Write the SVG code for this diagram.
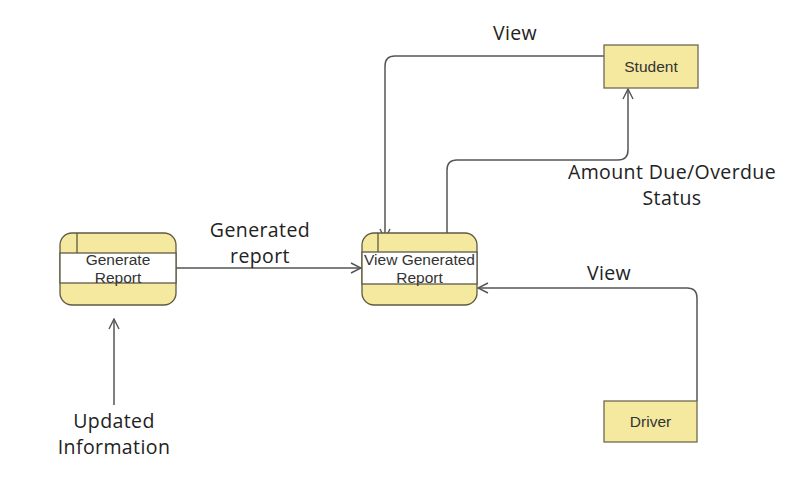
<svg xmlns="http://www.w3.org/2000/svg" width="792" height="501" viewBox="0 0 792 501">
<style>
.proc{fill:#f5e89f;stroke:#5e5a44;stroke-width:1.3}
.band{fill:#ffffff;stroke:#5e5a44;stroke-width:1.3}
.ent{fill:#f5e89f;stroke:#6e6a50;stroke-width:1.3}
.nt{font-family:"Liberation Sans",Arial,sans-serif;font-size:15.5px;fill:#333;text-anchor:middle}
.lbl{font-family:"Open Sans","Noto Sans",sans-serif;font-size:19.5px;letter-spacing:0.4px;fill:#222;text-anchor:middle}
.con{fill:none;stroke:#555;stroke-width:1.5}
</style>
<defs>
<marker id="arr" viewBox="0 0 12 12" refX="11" refY="6" markerWidth="12" markerHeight="12" markerUnits="userSpaceOnUse" orient="auto">
<path d="M1,1 L11,6 L1,11" fill="none" stroke="#555" stroke-width="1.4"/>
</marker>
</defs>
<rect width="792" height="501" fill="#ffffff"/>
<g id="connectors">
<path class="con" d="M604,56 H395 Q385,56 385,66 V239" marker-end="url(#arr)"/>
<path class="con" d="M447,233 V170 Q447,160 457,160 H618 Q628,160 628,150 V89" marker-end="url(#arr)"/>
<path class="con" d="M176,268 H361" marker-end="url(#arr)"/>
<path class="con" d="M697,401 V298 Q697,288 687,288 H478" marker-end="url(#arr)"/>
<path class="con" d="M114,405 V319" marker-end="url(#arr)"/>
</g>
<g id="generate-report">
<rect class="proc" x="60" y="233" width="116" height="72" rx="12"/>
<rect class="band" x="60" y="253" width="116" height="30"/>
<line x1="77" y1="233" x2="77" y2="253" stroke="#5e5a44" stroke-width="1.3"/>
<text class="nt" x="118" y="265">Generate</text>
<text class="nt" x="118" y="283">Report</text>
</g>
<g id="view-generated-report">
<rect class="proc" x="362" y="233" width="115" height="72" rx="12"/>
<rect class="band" x="362" y="252" width="115" height="32"/>
<line x1="378" y1="233" x2="378" y2="252" stroke="#5e5a44" stroke-width="1.3"/>
<text class="nt" x="419.5" y="265">View Generated</text>
<text class="nt" x="419.5" y="283">Report</text>
</g>
<g id="student">
<rect class="ent" x="604" y="45" width="94" height="43"/>
<text class="nt" x="651" y="72">Student</text>
</g>
<g id="driver">
<rect class="ent" x="604" y="401" width="93" height="41"/>
<text class="nt" x="650.5" y="427">Driver</text>
</g>
<g id="labels">
<text class="lbl" x="515" y="40">View</text>
<text class="lbl" x="260" y="237">Generated</text>
<text class="lbl" x="260" y="263">report</text>
<text class="lbl" x="672" y="179">Amount Due/Overdue</text>
<text class="lbl" x="672" y="205">Status</text>
<text class="lbl" x="609" y="280">View</text>
<text class="lbl" x="114" y="428">Updated</text>
<text class="lbl" x="114" y="454">Information</text>
</g>
</svg>
